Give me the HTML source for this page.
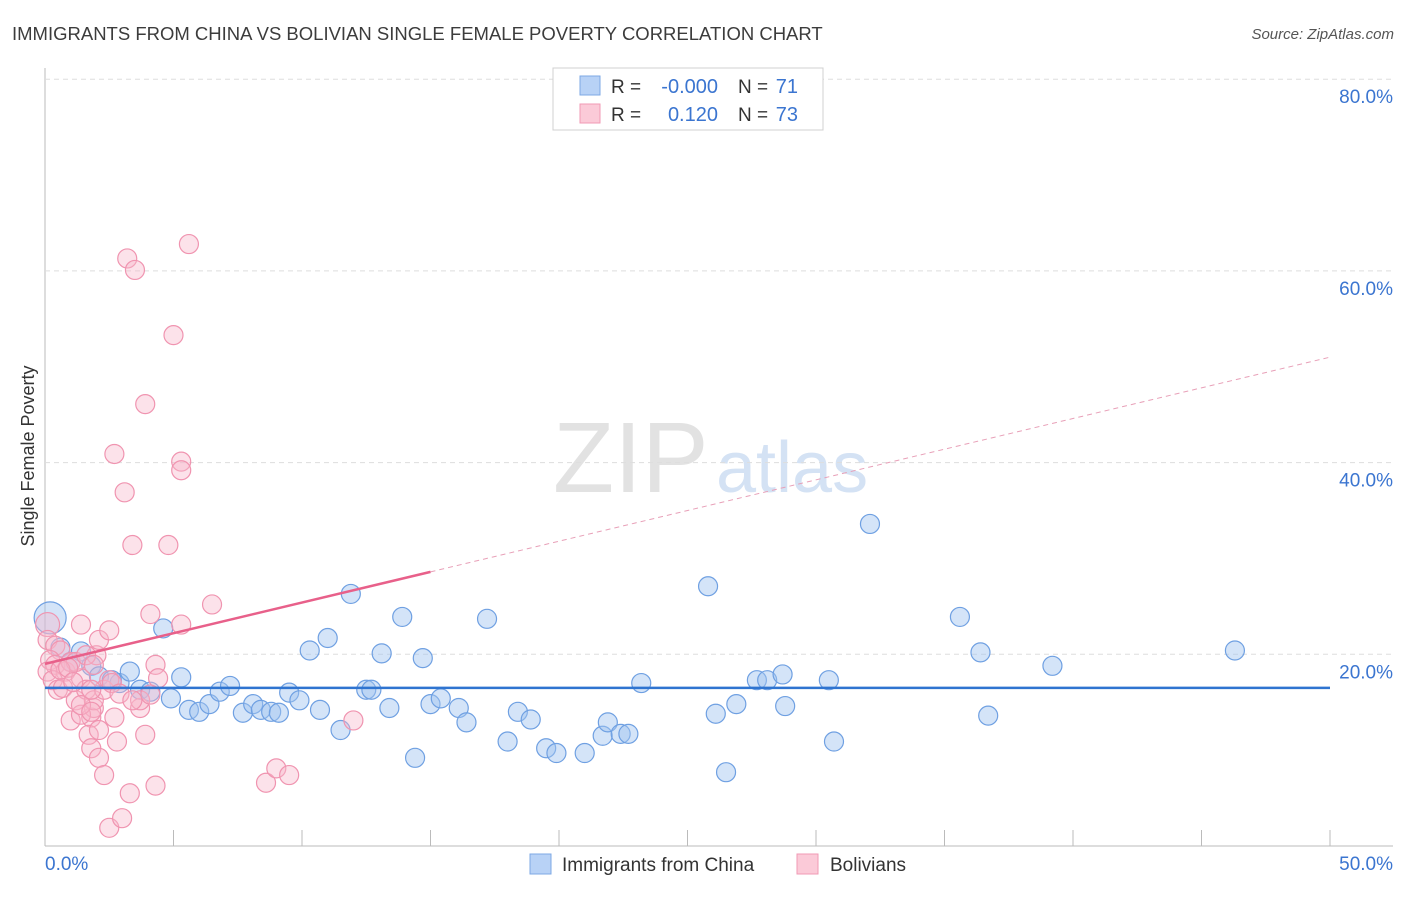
<!DOCTYPE html>
<html><head><meta charset="utf-8"><style>
body{margin:0;background:#fff;font-family:"Liberation Sans",sans-serif}
svg text{font-family:"Liberation Sans",sans-serif}
</style></head><body>
<svg id="chart" width="1406" height="892" xmlns="http://www.w3.org/2000/svg">
<text x="12" y="40" font-size="18.5" fill="#3c3c3c">IMMIGRANTS FROM CHINA VS BOLIVIAN SINGLE FEMALE POVERTY CORRELATION CHART</text>
<text x="1394" y="39" font-size="15" fill="#555" font-style="italic" text-anchor="end">Source: ZipAtlas.com</text>
<text x="553" y="492" font-size="100" fill="#e2e2e2" font-family="Liberation Serif, serif">ZIP</text>
<text x="716" y="492" font-size="72" fill="#d4e2f4">atlas</text>
<text transform="translate(34,456) rotate(-90)" font-size="18" fill="#333" text-anchor="middle">Single Female Poverty</text>
<g id="grid"></g><g id="pts"></g><g id="trend"></g>
<g>
<rect x="553" y="68" width="270" height="62" fill="#fff" stroke="#d0d0d0"/>
<rect x="580" y="76" width="20" height="19" fill="#b8d2f6" stroke="#7ea8e4"/>
<rect x="580" y="104" width="20" height="19" fill="#fbcad8" stroke="#f09ab4"/>
<text x="611" y="93" font-size="19" fill="#333">R =</text><text x="718" y="93" font-size="20" fill="#3b75d0" text-anchor="end">-0.000</text>
<text x="738" y="93" font-size="19" fill="#333">N =</text><text x="798" y="93" font-size="20" fill="#3b75d0" text-anchor="end">71</text>
<text x="611" y="121" font-size="19" fill="#333">R =</text><text x="718" y="121" font-size="20" fill="#3b75d0" text-anchor="end">0.120</text>
<text x="738" y="121" font-size="19" fill="#333">N =</text><text x="798" y="121" font-size="20" fill="#3b75d0" text-anchor="end">73</text>
</g>
<g>
<rect x="530" y="854" width="21" height="20" fill="#b8d2f6" stroke="#7ea8e4"/>
<text x="562" y="871" font-size="19" fill="#333">Immigrants from China</text>
<rect x="797" y="854" width="21" height="20" fill="#fbcad8" stroke="#f09ab4"/>
<text x="830" y="871" font-size="19" fill="#333">Bolivians</text>
</g>
</svg>
<script>
const xTicks=[0,5,10,15,20,25,30,35,40,45,50];
const yTicks=[20,40,60,80];
const yTickLabels=["20.0%","40.0%","60.0%","80.0%"];
const xEndLabels=["0.0%","50.0%"];
const chinaX=[0.2,0.6,1.4,1.0,1.8,2.1,2.9,3.3,2.6,3.7,4.1,4.6,4.9,5.3,5.6,6.0,6.4,6.8,7.2,7.7,8.1,8.4,8.8,9.1,9.5,9.9,10.3,10.7,11.0,11.5,11.9,12.5,12.7,13.1,13.4,13.9,14.4,14.7,15.0,15.4,16.1,16.4,17.2,18.0,18.4,18.9,19.5,19.9,21.0,21.7,21.9,22.4,22.7,23.2,25.8,26.1,26.5,26.9,27.7,28.1,28.7,28.8,30.5,30.7,32.1,35.6,36.4,36.7,39.2,46.3];
const chinaY=[23.8,20.7,20.3,19.2,18.8,17.7,17.0,18.2,17.3,16.3,16.1,22.7,15.4,17.6,14.2,14.0,14.8,16.1,16.7,13.9,14.8,14.2,14.0,13.9,16.0,15.2,20.4,14.2,21.7,12.1,26.3,16.3,16.3,20.1,14.4,23.9,9.2,19.6,14.8,15.4,14.4,12.9,23.7,10.9,14.0,13.2,10.2,9.7,9.7,11.5,12.9,11.7,11.7,17.0,27.1,13.8,7.7,14.8,17.3,17.3,17.9,14.6,17.3,10.9,33.6,23.9,20.2,13.6,18.8,20.4];
const bolX=[0.1,0.1,0.4,0.6,0.2,0.4,0.8,0.1,0.3,0.5,0.7,1.0,1.2,1.4,1.4,1.6,1.8,1.7,1.8,1.9,1.9,2.1,2.0,2.1,2.3,2.3,2.5,2.5,2.7,2.8,2.5,3.0,3.2,3.3,3.5,3.7,3.9,3.9,4.1,4.3,4.3,4.4,4.8,5.0,5.3,5.3,5.3,5.6,6.5,2.7,3.1,3.4,2.6,8.6,9.0,9.5,12.0,1.0,1.4,1.4,1.2,1.8,0.6,0.9,1.1,1.6,1.8,2.1,2.9,3.7,4.1,3.4,1.9];
const bolY=[23.1,21.5,20.9,20.4,19.4,18.9,18.2,18.2,17.3,16.3,16.5,19.2,15.2,17.5,23.1,16.3,13.4,11.6,10.2,14.4,15.2,9.2,19.9,21.5,16.3,7.4,1.9,22.5,13.4,10.9,17.3,2.9,61.3,5.5,60.1,14.4,11.6,46.1,24.2,18.9,6.3,17.5,31.4,53.3,23.1,40.1,39.2,62.8,25.2,40.9,36.9,31.4,17.0,6.6,8.1,7.4,13.1,13.1,13.7,14.7,19.2,14.0,18.4,18.6,17.1,19.9,16.3,12.1,15.9,15.2,15.8,15.2,18.9];
const chinaTrend=[16.5,16.5];
const bolTrendIntercept=19.0, bolTrendSlope=0.64, bolSolidEnd=15;
const X=v=>45+v*25.7, Y=v=>846-v*9.585;
const NS="http://www.w3.org/2000/svg";
function mk(parent,tag,attrs){const e=document.createElementNS(NS,tag);for(const k in attrs)e.setAttribute(k,attrs[k]);document.getElementById(parent).appendChild(e);return e;}
let a=mk('grid','line',{x1:45,y1:68,x2:45,y2:846,stroke:'#bbb'});


a=mk('grid','line',{x1:45,y1:846,x2:1393,y2:846,stroke:'#bbb'});


yTicks.forEach((t,i)=>{
 const g=mk('grid','line',{x1:45,x2:1393,y1:Y(t),y2:Y(t),stroke:'#ddd','stroke-dasharray':'5,4'});
 
 
 const l=mk('grid','text',{x:1393,y:Y(t)+24,'font-size':19,fill:'#3b75d0','text-anchor':'end'});
 l.textContent=yTickLabels[i];
 
 
});
xTicks.forEach(t=>{
 const g=mk('grid','line',{x1:X(t),x2:X(t),y1:830,y2:846,stroke:'#bbb'});
 
 
});
[[0,'start',45],[50,'end',1393]].forEach((d,i)=>{
 const l=mk('grid','text',{x:d[2],y:870,'font-size':19,fill:'#3b75d0','text-anchor':d[1]});
 l.textContent=xEndLabels[i];
 
 
});
chinaX.forEach((v,i)=>{
 const c=mk('pts','circle',{cx:X(v),cy:Y(chinaY[i]),r:i===0?16:9.5,fill:'rgba(160,196,240,0.45)',stroke:'#6fa0e2','stroke-width':1.2});
 
 
});
bolX.forEach((v,i)=>{
 const c=mk('pts','circle',{cx:X(v),cy:Y(bolY[i]),r:i===0?12:9.5,fill:'rgba(248,182,202,0.4)',stroke:'#f094b0','stroke-width':1.2});
 
 
});
let t=mk('trend','line',{x1:X(0),x2:X(50),y1:Y(chinaTrend[0]),y2:Y(chinaTrend[1]),stroke:'#2f74d0','stroke-width':2.5});


t=mk('trend','line',{x1:X(0),x2:X(bolSolidEnd),y1:Y(bolTrendIntercept),y2:Y(bolTrendIntercept+bolTrendSlope*bolSolidEnd),stroke:'#e8608a','stroke-width':2.5});


t=mk('trend','line',{x1:X(bolSolidEnd),x2:X(50),y1:Y(bolTrendIntercept+bolTrendSlope*bolSolidEnd),y2:Y(bolTrendIntercept+bolTrendSlope*50),stroke:'#e8a0b8','stroke-width':1,'stroke-dasharray':'5,4'});


</script>
</body></html>
